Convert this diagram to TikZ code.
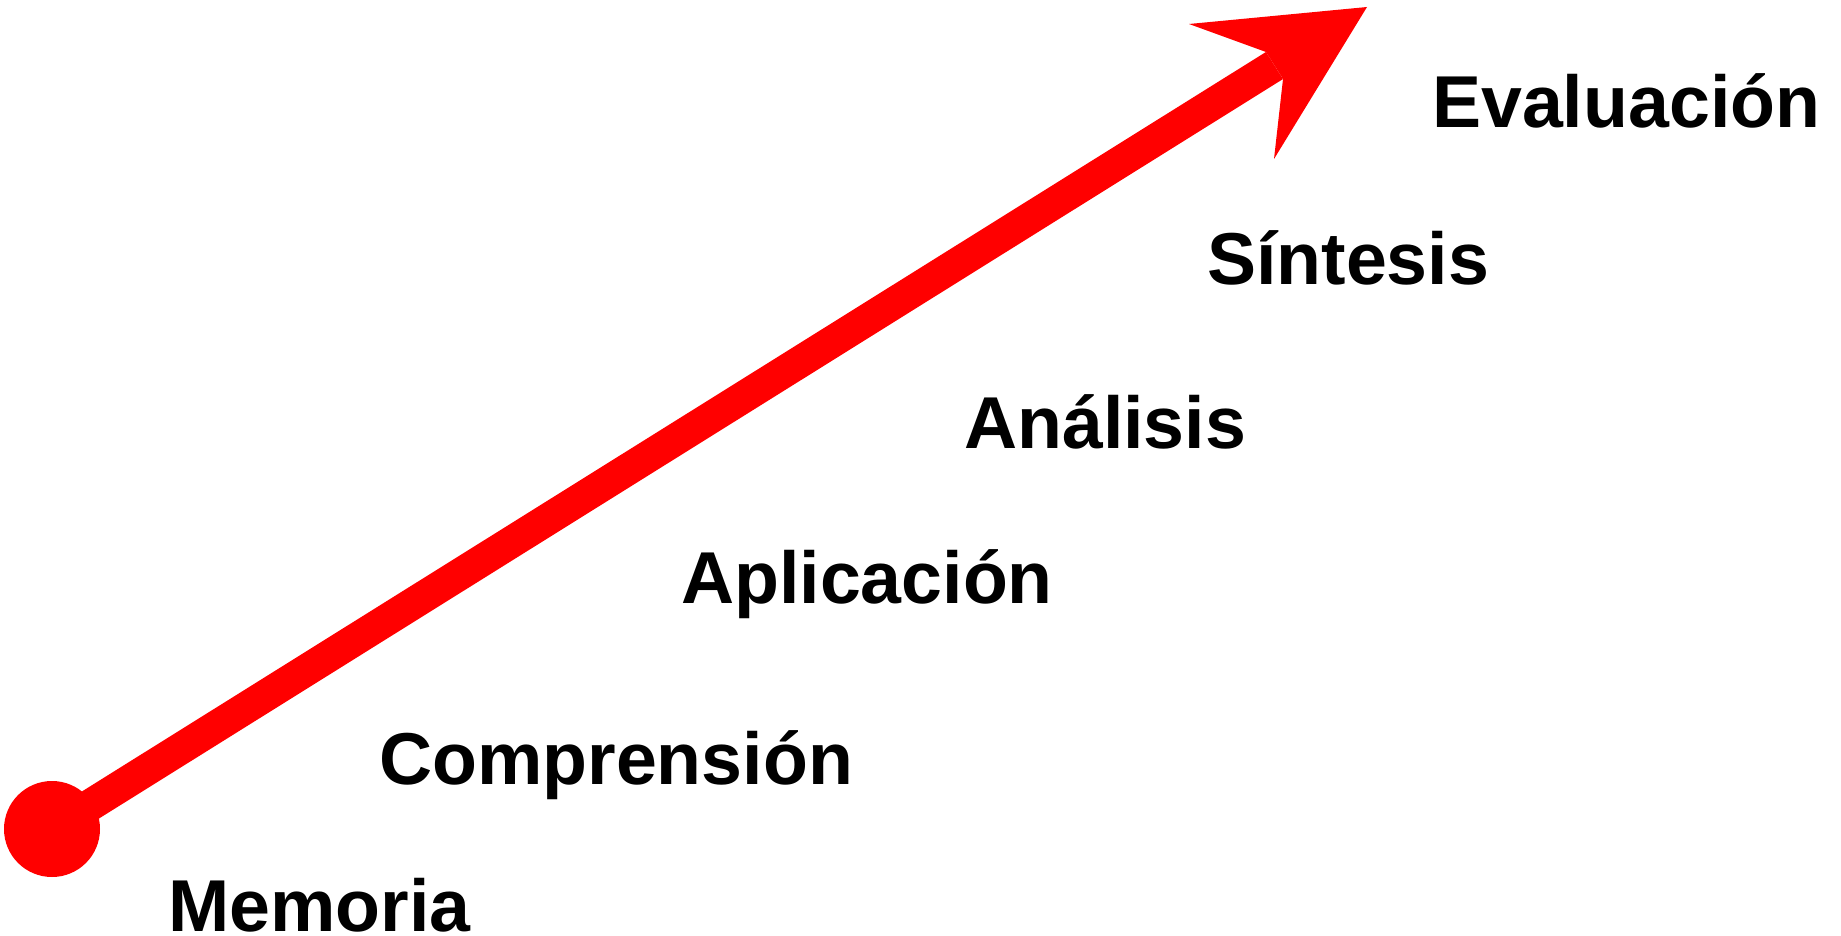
\documentclass[tikz,border=0pt]{standalone}
\usepackage{fontspec}
\setmainfont{Liberation Sans}
\usepackage{tikz}
\usetikzlibrary{positioning}
\usetikzlibrary{calc}

\begin{document}
\begin{tikzpicture}[x=1pt, y=-1pt]

% used shapes
\tikzstyle{nivel} = [inner sep=0pt, anchor=base west, text depth=0pt, font=\fontsize{73.5}{80}\selectfont\bfseries]
\tikzstyle{punto} = [circle, fill=red, inner sep=0pt, minimum size=96pt]
\tikzstyle{flecha} = [draw=red, line width=32pt]

\useasboundingbox (0,0) rectangle (1841,936);

\node [punto] (inicio) at (52,829) {};
\coordinate (punta) at (1274.5,65.5);

\draw [flecha] (inicio.center) -- (punta);
\fill [red] (punta) -- (1266,52) -- (1189,24) -- (1367,7) -- (1274,159) -- (1283,79) -- cycle;

\node [nivel] (memoria) at (168,931) {Memoria};
\node [nivel] (comprension) at (379,784) {Comprensión};
\node [nivel] (aplicacion) at (681,603) {Aplicación};
\node [nivel] (analisis) at (964,448) {Análisis};
\node [nivel] (sintesis) at (1207,284) {Síntesis};
\node [nivel] (evaluacion) at (1432,128) {Evaluación};

\end{tikzpicture}
\end{document}
